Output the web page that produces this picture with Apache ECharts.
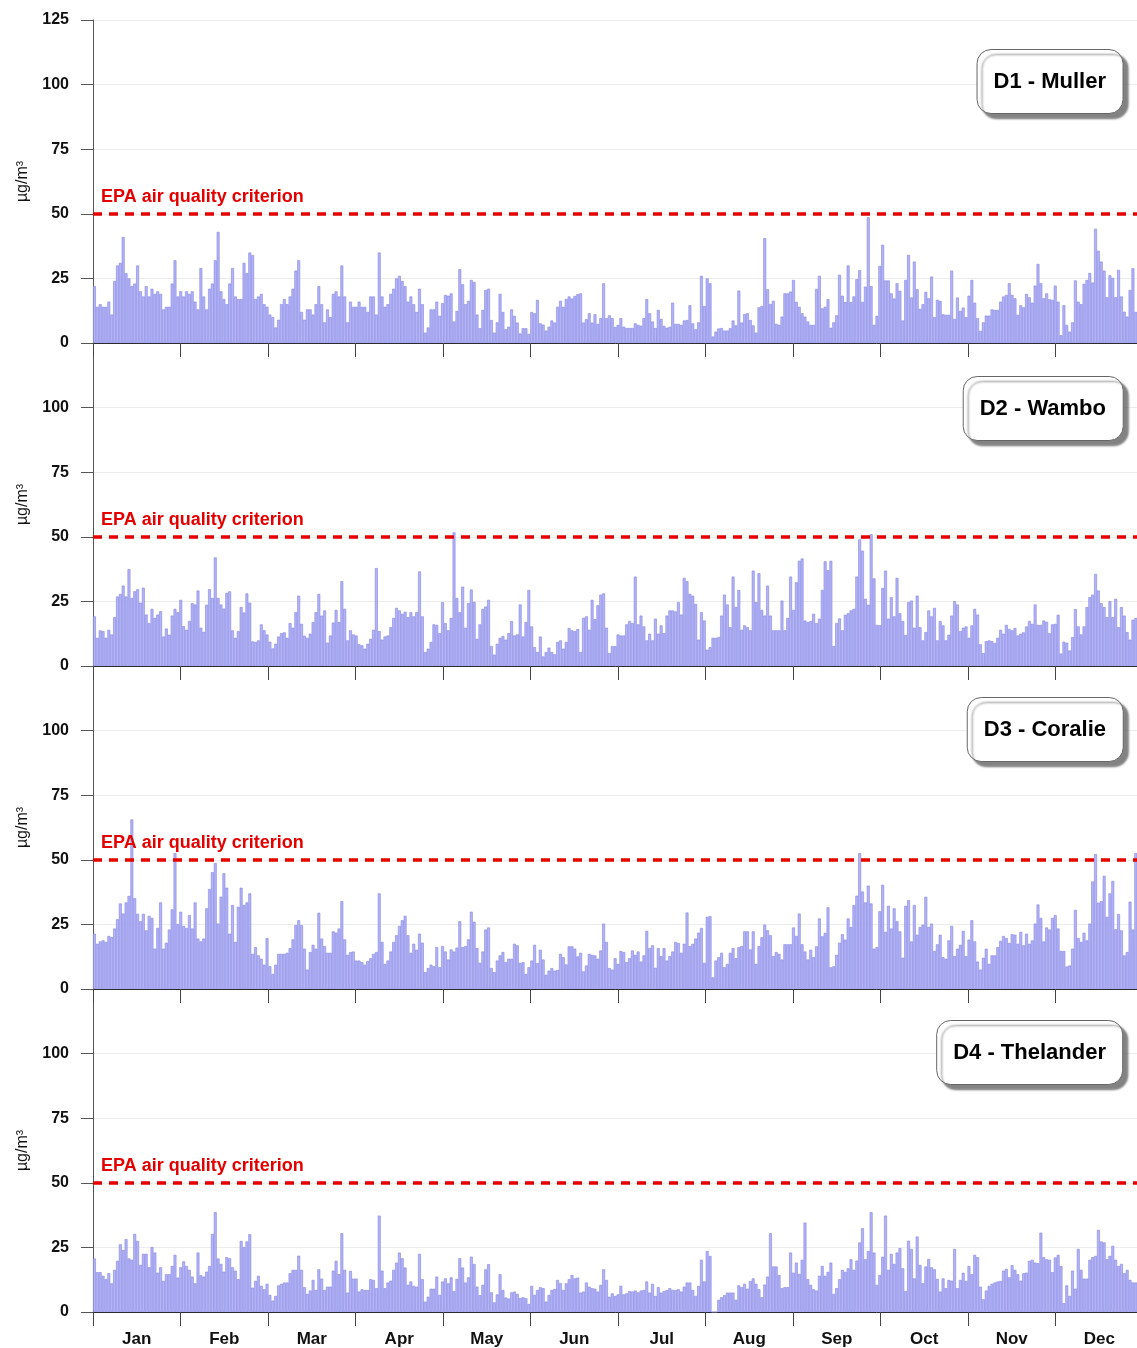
<!DOCTYPE html>
<html>
<head>
<meta charset="utf-8">
<title>Daily PM10 - D1 to D4</title>
<script src="https://cdn.jsdelivr.net/npm/echarts@6/dist/echarts.min.js"></script>
<style>
    html, body { margin: 0; padding: 0; background: #fff; }
    #main { width: 1137px; height: 1348px; }
</style>
</head>
<body>
<div id="main"></div>
<script>
const months = ['Jan', 'Feb', 'Mar', 'Apr', 'May', 'Jun', 'Jul', 'Aug', 'Sep', 'Oct', 'Nov', 'Dec'];
const stations = ['D1 - Muller', 'D2 - Wambo', 'D3 - Coralie', 'D4 - Thelander'];
const criterion = 50;
const criterionLabel = 'EPA air quality criterion';

// daily values, µg/m³, one row = 10 days
const d1Muller = [
    22, 14, 15, 14, 14, 16, 11, 24, 30, 31,
    41, 27, 25, 22, 23, 30, 20, 18, 22, 18,
    21, 19, 20, 19, 13, 14, 14, 23, 32, 18,
    20, 18, 20, 19, 20, 16, 13, 29, 18, 13,
    21, 23, 32, 43, 20, 17, 15, 23, 29, 18,
    17, 17, 31, 27, 35, 34, 17, 18, 19, 15,
    14, 11, 10, 6, 9, 15, 17, 15, 18, 21,
    28, 32, 12, 9, 13, 13, 11, 15, 22, 15,
    8, 13, 10, 19, 20, 18, 30, 18, 8, 16,
    14, 14, 16, 14, 14, 12, 18, 18, 11, 35,
    18, 14, 15, 19, 21, 25, 26, 24, 22, 16,
    18, 15, 12, 21, 15, 4, 6, 13, 13, 16,
    10.5, 15.4, 18.6, 18.3, 19.2, 8.3, 12.4, 28.6, 22.7, 15,
    16.3, 24.4, 23.6, 11, 5.7, 12.8, 20.5, 21, 8.9, 4,
    8, 19, 12, 5.3, 6.3, 13, 10.5, 7.9, 3.7, 5.7,
    5.7, 3.5, 12, 11.5, 16.7, 7.6, 7.1, 4.8, 6.3, 8.7,
    7.9, 14, 16.3, 14, 17, 18, 17.2, 18.2, 18.9, 19.2,
    7.9, 9.2, 11.5, 7.9, 11.1, 7.4, 9.6, 23.1, 9.6, 10.7,
    9.6, 6.2, 7, 9.6, 6.3, 5.8, 5.8, 5.8, 7.6, 7,
    6.7, 9.6, 17, 11.5, 8.3, 5.8, 12.8, 9.3, 6.6, 5.9,
    6.3, 15.6, 7.4, 7.4, 7, 8.7, 8.9, 14.6, 7.6, 5.3,
    8, 26, 14.3, 25, 23.1, 2.5, 4.4, 5.6, 5.8, 4.8,
    4.8, 5.7, 8.7, 6.8, 20.3, 7.9, 11.2, 11.5, 8.9, 6.8,
    4, 13.8, 14.3, 40.6, 20.8, 15.1, 16.3, 7.4, 7, 10.2,
    19.2, 19.2, 19.9, 24.4, 15.9, 14, 11.5, 10.2, 8.3, 7,
    7, 20.9, 26, 13.4, 14, 17, 5.9, 8, 10.7, 26.4,
    18.3, 15.8, 30, 15.8, 18, 24.7, 28.2, 15.9, 21.8, 48.7,
    22, 7, 10.5, 29.8, 38, 24.2, 24.2, 19.2, 17.2, 23.1,
    20.2, 8.7, 24.4, 34.1, 17.6, 31.5, 20.8, 13.2, 15, 19.8,
    17.3, 25.7, 10, 16.7, 16.3, 11.1, 10.9, 10.9, 28, 9.3,
    17.6, 12.4, 13.7, 10, 18.3, 24.4, 15.6, 9.6, 4.7, 8,
    10.6, 10.6, 13, 12.8, 12.8, 16, 18, 18.6, 23.1, 18.6,
    17.3, 10.9, 14.6, 13.8, 19, 17.7, 15.6, 22.2, 30.6, 23.1,
    17.3, 19.2, 16.9, 16.7, 22.2, 16, 3, 14.6, 7, 4.4,
    8, 24.2, 16, 15, 22.9, 24.4, 27.1, 23.4, 44.2, 35.7,
    31.5, 28, 17.7, 26.2, 25.2, 17.7, 28.3, 18, 12.1, 10.2,
    20.5, 28.9, 12, 30, 28
];

const d2Wambo = [
    19.2, 10.9, 13.8, 13.5, 10.9, 14, 12.2, 18.9, 26.9, 27.9,
    31.1, 26.9, 37.5, 26.3, 28.9, 29.7, 24.5, 30.3, 19.9, 16.6,
    22.1, 18.6, 19.9, 21.2, 11.4, 14.5, 12.1, 19.5, 22.1, 20.8,
    25.6, 15.4, 14, 17.4, 24.3, 23.8, 29.2, 14.8, 13.2, 23.7,
    29.7, 26.3, 42, 26.3, 23.8, 22.2, 28.3, 28.9, 13.8, 10.9,
    13.5, 22.8, 20.7, 28.1, 24.5, 9.5, 9.3, 9.9, 16.1, 13.8,
    12.2, 9.4, 6.8, 8.6, 11.4, 12.7, 13, 10.9, 16.6, 14.8,
    20.8, 27.2, 16.3, 11.7, 10.9, 12.5, 17, 20.8, 27.9, 19.5,
    21.5, 9, 11.8, 16.8, 21.7, 17, 32.8, 22.1, 9.9, 13.8,
    12.2, 11.8, 8.4, 8, 6.7, 8.6, 10.5, 14, 37.9, 13.5,
    10.2, 11.4, 11.8, 15, 18.6, 22.5, 21.5, 20.2, 21, 18.9,
    20.8, 19.2, 20.8, 36.6, 19.2, 5.4, 6.7, 9.3, 16.1, 15.9,
    12.7, 24.7, 16.6, 13.8, 18.6, 51.7, 26.3, 20.8, 30.7, 14.8,
    24.3, 29.6, 24.8, 10.5, 16.1, 22.1, 23, 25.6, 7.7, 4.4,
    8.6, 10.9, 11.6, 10.2, 12.7, 17.4, 11.8, 12.2, 23.8, 11.4,
    17, 29.4, 15.3, 7.3, 5.4, 11.4, 3.7, 5.4, 7.1, 5.4,
    4.5, 9.3, 9.9, 6.7, 9.3, 14.7, 13.8, 13.5, 14.3, 5.4,
    18.6, 19.2, 14, 25.6, 18.1, 23.5, 27.6, 28.1, 14.8, 5,
    7.7, 7.7, 12.2, 11.8, 11.8, 16.1, 17.4, 16.6, 34.6, 16.1,
    19.5, 15.3, 9.9, 12.5, 9.9, 18.3, 12.5, 15.7, 12.7, 19.5,
    21.5, 21.5, 21.1, 24.7, 19.9, 34.1, 32.8, 27.9, 27.2, 24,
    10.2, 20.8, 17.6, 6.3, 7.3, 10.9, 10.9, 11.2, 19.5, 27.6,
    23.8, 15, 34.6, 22.8, 29.4, 14, 15.7, 15, 13.8, 36.9,
    24.7, 35.9, 21.7, 19.5, 31.1, 19.5, 13.8, 13.8, 13.8, 25.3,
    13.8, 18.6, 34.6, 21.7, 32.4, 40.7, 41.6, 17.6, 17, 17.4,
    20.2, 16.6, 18.3, 29.4, 40.5, 37.1, 40.7, 7.7, 16.6, 18.4,
    13.8, 19.8, 20.4, 21.5, 22.1, 34.6, 49, 44.6, 26, 23.7,
    51, 33.9, 15.9, 15.8, 30.2, 36.9, 18.3, 26.6, 19.2, 34.1,
    20.4, 17.4, 12, 24.7, 25.3, 14.8, 27.2, 15, 9.9, 13.1,
    21.5, 19.2, 22.5, 9.9, 17.4, 15.7, 9.9, 12.1, 19.5, 25.1,
    23.8, 13.5, 14.8, 15.3, 10.9, 15.7, 22.1, 19.9, 8.4, 5,
    9.6, 9.9, 9.6, 8.9, 10.9, 14, 12.5, 15.9, 14.3, 13.8,
    14.7, 11.8, 12.5, 13, 15.3, 17.4, 16.3, 23.8, 15.9, 15.9,
    17.6, 17.1, 12.7, 16.1, 16.3, 19.8, 4.8, 9.4, 9, 6,
    11.2, 22, 15.3, 12.2, 15.3, 22.8, 26.6, 27.6, 35.6, 29.2,
    24.3, 22.8, 18.9, 25.1, 18.9, 26, 15, 22.8, 19.5, 13.1,
    10.2, 17.9, 18.6, 19, 19
];

const d3Coralie = [
    21.4, 17.5, 18.4, 18.8, 18.2, 20.5, 20.1, 23.4, 27, 33.1,
    29.2, 33.5, 36, 65.6, 35.1, 29.1, 26.2, 29.1, 22.7, 28.3,
    27.5, 15.6, 23.6, 33.5, 15.6, 17.9, 23, 30.8, 52.6, 25.1,
    29.9, 24.4, 23.6, 28.6, 23.4, 33.5, 19.5, 18.4, 19.5, 31.2,
    38.7, 45.2, 48.7, 25.3, 35.7, 44.8, 39.2, 21.4, 32.5, 18.2,
    31.8, 39.2, 32.5, 33.5, 37, 13.6, 16.2, 13, 11.7, 9.4,
    19.7, 8.8, 5.8, 9.4, 13.6, 13.6, 13.6, 14, 15.8, 19.2,
    24.7, 26.6, 24.7, 15.6, 7.5, 14.3, 17.1, 15.6, 29.5, 19.5,
    16.6, 14, 14, 22.3, 21.8, 23.4, 34, 19.2, 13.2, 14.3,
    14.5, 11, 11, 10.4, 9.4, 10.8, 11.9, 13.6, 14.3, 37,
    18.2, 9.7, 11, 14.5, 18.2, 20.8, 24.4, 26.6, 28.3, 20.8,
    14, 17.5, 15.2, 21.4, 17.9, 6.5, 8.1, 9.4, 8.8, 16.2,
    8.4, 16.6, 14.5, 11.4, 15.3, 14.5, 16, 26.2, 16.2, 16.6,
    19.2, 29.9, 26, 15.8, 10.1, 14.5, 23, 23.8, 8.1, 6.5,
    11, 13, 14.3, 10.4, 11.7, 11.7, 17.5, 16.9, 10.1, 10.4,
    5.8, 8.4, 11, 17.1, 10, 15.2, 11.4, 5.5, 7.1, 8.1,
    7.1, 7.4, 13.6, 12.3, 9.5, 16.5, 16.5, 15.6, 12.6, 14,
    6.8, 9.1, 13.6, 13.2, 13, 11.7, 14.9, 25.3, 18.2, 8.1,
    7.5, 11.9, 9.7, 14.7, 14.3, 10.4, 11.9, 14.9, 13.2, 14.5,
    10.6, 13, 22.5, 15.8, 16.9, 8.2, 15.8, 12.7, 15.8, 11,
    12.7, 14.5, 18.2, 17.8, 14, 17.5, 29.6, 16.6, 17.5, 19.5,
    21.8, 23.6, 10.1, 27.9, 28.2, 4.5, 11, 12.3, 14, 8.4,
    9.7, 14, 15.8, 11.9, 16.2, 16.6, 22.3, 22.3, 15.3, 22.3,
    9.7, 16.6, 20, 24.9, 22.7, 20.8, 12.7, 14.3, 13.6, 11.4,
    17.3, 17.3, 17.3, 23.8, 20.5, 29.2, 17.3, 14.5, 11.4, 15.2,
    12.3, 16.5, 27.3, 20.4, 21.7, 31.6, 8.4, 8.8, 13.2, 17.9,
    21.2, 19.1, 27.3, 24, 32.5, 36.1, 52.6, 37.7, 33.5, 40,
    33.1, 15.6, 16.2, 30.1, 40.3, 22.1, 32.2, 23.4, 31.2, 26.2,
    22.3, 12.1, 32.2, 34.4, 18.4, 32.5, 21, 24, 24.9, 35.7,
    24, 25.3, 14.7, 17.3, 21, 12.3, 11.7, 18.8, 24.4, 12.7,
    15.6, 17.1, 22.5, 12.7, 19.1, 26.6, 18.4, 10.6, 7.5, 12.1,
    15.6, 9.7, 13, 13, 16.2, 18.6, 20.5, 19.7, 17.8, 21.2,
    21, 17.5, 22.1, 16.9, 21.4, 17.5, 18.8, 25.3, 32.7, 27.5,
    18.4, 23.8, 23, 27.5, 28.6, 23.4, 14.7, 14.7, 8.7, 9.1,
    15.6, 30.6, 19.7, 18.2, 21.8, 18.8, 25.3, 41.6, 52.2, 33.4,
    34, 43.8, 27.9, 37, 41.8, 23.1, 29, 22.7, 13, 14.3,
    33.8, 23, 52.6, 23, 20
];

const d4Thelander = [
    20.7, 15.4, 15.4, 14, 12.7, 15, 11.1, 16.3, 19.8, 26.2,
    24, 28.2, 20.7, 20.2, 30.2, 27.5, 18.2, 22.5, 22.5, 17.3,
    25.1, 23, 15.2, 17.3, 12, 14.6, 14.6, 17.8, 22.1, 13.3,
    17.3, 19.6, 17.8, 16.3, 13.7, 11.1, 23, 14.2, 13.7, 15.6,
    17.8, 30.2, 38.6, 20.7, 18.6, 15.6, 21.2, 20.8, 17.3, 16,
    12.7, 27.5, 25.1, 27.3, 30.1, 9.4, 12, 14, 10.1, 8.8,
    10.9, 6.6, 4.4, 6.2, 10.3, 10.9, 11.4, 11.4, 15, 16.3,
    16.3, 21.8, 16.3, 9.6, 7, 8.3, 12.4, 8.5, 16.5, 12.9,
    8.5, 9.8, 9.8, 16, 19.8, 14.7, 30.5, 16.3, 7.5, 15.9,
    12.9, 12.9, 7.9, 8.8, 8.5, 8.5, 12.7, 12.4, 9.2, 37.3,
    16, 9.2, 11.4, 12.1, 16.3, 19.1, 23, 20.8, 17.2, 10.5,
    11.8, 10.1, 9.8, 22.5, 12.7, 4, 5.9, 9, 9, 13.7,
    6.6, 11.8, 13, 11.1, 13.4, 8.1, 12.8, 20.8, 17.2, 11.4,
    13.4, 21.4, 18.6, 9.8, 6.5, 10.5, 16.5, 18.5, 7.6, 3.7,
    6.8, 14.6, 8.5, 5.6, 5.2, 7.6, 7.9, 7, 5.4, 5.7,
    5.3, 3.1, 10.1, 6.6, 8.5, 9.6, 9.2, 4, 6.6, 8.5,
    8.9, 12.4, 11.1, 8.5, 11.1, 12.7, 14.3, 13, 13.3, 7.5,
    7.9, 11.4, 9.8, 9.2, 9, 7.9, 10.5, 16.5, 12.4, 5.9,
    7.2, 6.2, 6.8, 10.1, 6.8, 7.2, 8.1, 7.9, 8.3, 7.6,
    8.3, 8.5, 11.8, 7.5, 10.9, 6.2, 9.6, 7.5, 8.1, 8.5,
    9.2, 8.5, 8.5, 8.8, 7.9, 9.8, 11.4, 11.4, 8.5, 6.2,
    10.1, 20.2, 11.8, 23.6, 21.7, 0, 0, 4.7, 5.7, 6.5,
    7.5, 7.5, 7.5, 4.7, 10.3, 9.6, 10.9, 9, 12, 13,
    10.9, 8.8, 5.7, 10.6, 13.7, 30.5, 17.6, 17.6, 14.3, 9.2,
    9.6, 9.6, 23, 15.2, 19.1, 14.7, 20.2, 34.6, 12.7, 10.5,
    8.8, 8.3, 14, 17.8, 14, 15.5, 19.1, 7, 9.2, 12.7,
    16.3, 15.5, 16.9, 20.4, 16.3, 19.9, 26.9, 32.4, 20.4, 23.6,
    38.6, 23, 10.5, 14.3, 21.4, 37.3, 16.3, 22.5, 18.6, 23,
    24.7, 16.9, 8.1, 27.6, 24.4, 13, 29.2, 18.2, 11.1, 17.6,
    20.5, 17.3, 16.5, 12.8, 7.9, 13, 9.2, 12.4, 12.1, 24.4,
    9.2, 12.4, 15.2, 12, 17.8, 14.6, 22.1, 21.2, 9.8, 4.9,
    8.3, 10.1, 10.9, 11.4, 11.8, 12, 16, 16.7, 13.4, 18.1,
    16.3, 14.6, 12.1, 15, 15.2, 19.8, 20.2, 19.1, 18.9, 30.7,
    21.2, 20.4, 20.2, 15.4, 21.1, 22.1, 17.8, 3.4, 10.3, 6.2,
    16, 9, 24.4, 16.3, 12.9, 12.9, 20.2, 21.2, 21.7, 31.8,
    27.3, 26.9, 20.4, 21.7, 25.6, 20.2, 17.8, 18.6, 15, 16.3,
    12.4, 11.4, 11.4, 16.5, 16
];

const panels = [d1Muller, d2Wambo, d3Coralie, d4Thelander];
const days = d1Muller.map((v, i) => i + 1);

const font = 'Arial, "Liberation Sans", sans-serif';
const panelTop = 20;
const panelHeight = 323;
const boxTops = [49, 376, 697, 1020];

const xAxis = [];
const yAxis = [];
const series = [];
panels.forEach((values, i) => {
    xAxis.push({
        type: 'category',
        gridIndex: i,
        data: days,
        show: false,
    });
    xAxis.push({
        type: 'category',
        gridIndex: i,
        position: 'bottom',
        data: months,
        boundaryGap: true,
        axisLine: { show: true, lineStyle: { color: '#222', width: 1 } },
        axisTick: { show: true, length: 14, lineStyle: { color: '#444' } },
        axisLabel: {
            show: i === panels.length - 1,
            color: '#111',
            fontFamily: font,
            fontWeight: 'bold',
            fontSize: 17,
            margin: 19,
        },
        splitLine: { show: false },
    });
    yAxis.push({
        type: 'value',
        gridIndex: i,
        min: 0,
        max: 125,
        interval: 25,
        name: 'µg/m³',
        nameLocation: 'middle',
        nameGap: 62,
        nameTextStyle: { color: '#111', fontFamily: font, fontSize: 16 },
        axisLine: { show: true, lineStyle: { color: '#555' } },
        axisTick: { show: true, length: 12, lineStyle: { color: '#555' } },
        axisLabel: {
            color: '#111',
            fontFamily: font,
            fontWeight: 'bold',
            fontSize: 16,
            margin: 24,
            formatter: (v) => (i > 0 && v === 125 ? '' : v),
        },
        splitLine: { lineStyle: { color: '#ececec' } },
    });
    series.push({
        type: 'bar',
        name: stations[i],
        xAxisIndex: i * 2,
        yAxisIndex: i,
        data: values,
        barCategoryGap: '0%',
        itemStyle: { color: '#b3b3f5', borderColor: '#8484e4', borderWidth: 0.6 },
        markLine: {
            silent: true,
            symbol: 'none',
            data: [{ yAxis: criterion }],
            lineStyle: { color: '#e50000', width: 3.5, type: [9, 7] },
            label: {
                formatter: criterionLabel,
                position: 'insideStartTop',
                distance: [8, 8],
                color: '#e50000',
                fontFamily: font,
                fontWeight: 'bold',
                fontSize: 18,
            },
        },
    });
});

const option = {
    animation: false,
    backgroundColor: '#fff',
    title: stations.map((name, i) => ({
        text: name,
        right: 14,
        top: boxTops[i],
        padding: [20, 17],
        backgroundColor: '#fff',
        borderColor: '#666',
        borderWidth: 1,
        borderRadius: 14,
        shadowColor: 'rgba(90, 90, 90, 0.75)',
        shadowBlur: 2,
        shadowOffsetX: 5,
        shadowOffsetY: 5,
        textStyle: {
            color: '#000',
            fontFamily: font,
            fontWeight: 'bold',
            fontSize: 22,
            lineHeight: 25,
        },
    })),
    grid: panels.map((v, i) => ({
        left: 93,
        width: 1050,
        top: panelTop + i * panelHeight,
        height: panelHeight,
        outerBoundsMode: 'none',
    })),
    xAxis: xAxis,
    yAxis: yAxis,
    series: series,
};

const chart = echarts.init(document.getElementById('main'), null, { renderer: 'canvas' });
chart.setOption(option);
</script>
</body>
</html>
